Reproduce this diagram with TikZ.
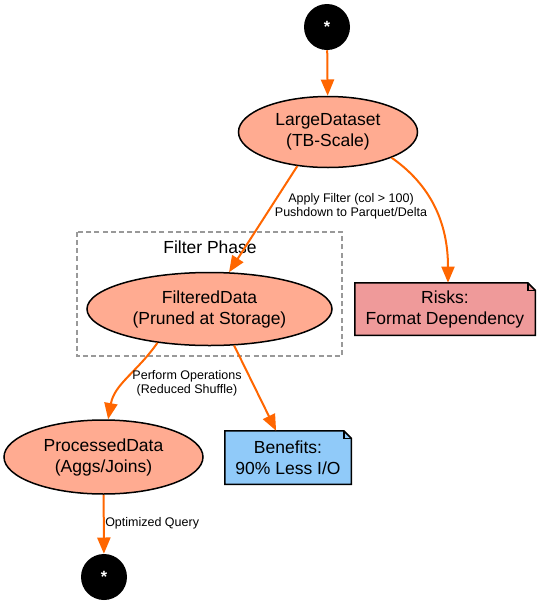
\documentclass[tikz,border=0pt]{standalone}
\usepackage{fontspec}
\setmainfont{Liberation Sans}
\usetikzlibrary{arrows.meta,shapes.geometric,backgrounds}
\definecolor{ellfill}{HTML}{FFAB91}
\definecolor{riskfill}{HTML}{EF9A9A}
\definecolor{benfill}{HTML}{90CAF9}
\definecolor{edgeor}{HTML}{FF6600}
\definecolor{clgray}{HTML}{999999}
\begin{document}
\begin{tikzpicture}[x=0.8pt,y=-0.8pt,
  ell/.style={ellipse,draw=black,line width=1.2pt,fill=ellfill,inner sep=0pt,align=center,font=\fontsize{14}{16.8}\selectfont},
  endpt/.style={circle,fill=black,minimum size=36.8pt,inner sep=0pt,text=white,font=\bfseries\fontsize{13}{14}\selectfont},
  notebox/.style={rectangle,inner sep=0pt,align=center,font=\fontsize{14}{16.8}\selectfont},
  flow/.style={draw=edgeor,line width=1.6pt,-{Triangle[length=13pt,width=10.5pt]}},
  lbl/.style={font=\fontsize{10}{11.2}\selectfont,align=center,inner sep=0pt},
  notebd/.style={draw=black,line width=1.2pt},
]
\useasboundingbox (0,0) rectangle (539,604);

% cluster
\draw[clgray,line width=0.9pt,dash pattern=on 4pt off 2.5pt] (77,232) rectangle (342,356);
\node[font=\fontsize{14}{16.8}\selectfont,inner sep=0pt] (cl) at (210,247) {Filter Phase};

% nodes
\node[endpt] (start) at (327,27) {*};
\node[ell,minimum width=143.2pt,minimum height=56.8pt] (ld) at (328,132) {LargeDataset\\(TB-Scale)};
\node[ell,minimum width=196pt,minimum height=58.4pt] (fd) at (209.5,309) {FilteredData\\(Pruned at Storage)};
\node[ell,minimum width=159.2pt,minimum height=59.2pt] (pd) at (103.5,457) {ProcessedData\\(Aggs/Joins)};
\node[endpt] (stop) at (104,577) {*};
\node[notebox,minimum width=144pt,minimum height=41.6pt] (rk) at (445,309) {Risks:\\Format Dependency};
\node[notebox,minimum width=100.8pt,minimum height=42.4pt] (bn) at (288,457.5) {Benefits:\\90\% Less I/O};

\begin{scope}[on background layer]
\foreach \n/\c in {rk/riskfill,bn/benfill}{
  \filldraw[notebd,fill=\c] (\n.north west) -- ([xshift=-6pt]\n.north east) -- ([yshift=-6pt]\n.north east) -- (\n.south east) -- (\n.south west) -- cycle;
  \draw[notebd] ([xshift=-6pt]\n.north east) |- ([yshift=-6pt]\n.north east);
}
\end{scope}

% edges
\draw[flow] (start) -- (ld);
\draw[flow] (ld.228) -- (fd.62);
\draw[flow] (ld.-22) to[out=-35,in=90] ([xshift=2.4pt]rk.north);
\draw[flow] (fd.213) to[out=-125,in=80] (pd.83);
\draw[flow] (fd.-56) -- (bn.114);
\draw[flow] (pd) -- (stop);

% labels
\node[lbl] (l1) at (351,206) {Apply Filter (col > 100)\\Pushdown to Parquet/Delta};
\node[lbl] (l2) at (187,383.5) {Perform Operations\\(Reduced Shuffle)};
\node[lbl,anchor=west] (l3) at (105,523) {Optimized Query};
\end{tikzpicture}
\end{document}
